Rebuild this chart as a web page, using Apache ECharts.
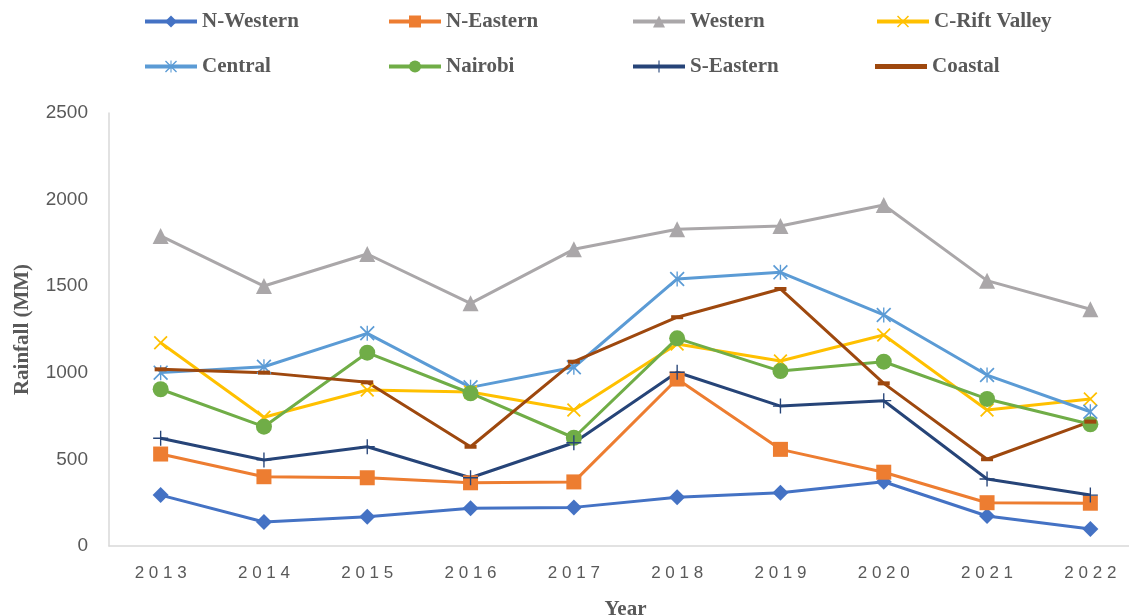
<!DOCTYPE html>
<html>
<head>
<meta charset="utf-8">
<script src="https://cdn.jsdelivr.net/npm/echarts@6/dist/echarts.min.js"></script>
<style>
html, body { margin:0; padding:0; background:#fff; }
#rain { width:1129px; height:616px; }
</style>
</head>
<body>
<div id="rain"></div>
<script>
var years = ['2013','2014','2015','2016','2017','2018','2019','2020','2021','2022'];
var seriesNames = ['N-Western','N-Eastern','Western','C-Rift Valley','Central','Nairobi','S-Eastern','Coastal'];

var nWestern  = [294, 139, 169, 218, 223, 281, 308, 371, 173, 98];
var nEastern  = [531, 400, 394, 365, 370, 964, 558, 426, 250, 247];
var western   = [1790, 1501, 1686, 1401, 1713, 1829, 1848, 1969, 1532, 1367];
var cRift     = [1174, 743, 901, 889, 785, 1166, 1068, 1218, 785, 849];
var central   = [1001, 1035, 1228, 916, 1032, 1542, 1580, 1334, 987, 775];
var nairobi   = [905, 689, 1116, 882, 625, 1199, 1010, 1064, 849, 703];
var sEastern  = [622, 497, 573, 394, 596, 1003, 808, 839, 387, 294];
var coastal   = [1020, 1001, 945, 573, 1064, 1321, 1484, 939, 501, 718];

var yTicks = [0, 500, 1000, 1500, 2000, 2500];

// marker shapes (excel style x / star / plus)
var xPath = 'path://M0,1.77L1.77,0L20,18.23L18.23,20ZM18.23,0L20,1.77L1.77,20L0,18.23Z';
var starPath = 'path://M0,1.6L1.6,0L20,18.4L18.4,20ZM18.4,0L20,1.6L1.6,20L0,18.4ZM9.1,0L10.9,0L10.9,20L9.1,20Z';
var plusPath = 'path://M9.1,0L10.9,0L10.9,9.1L20,9.1L20,10.9L10.9,10.9L10.9,20L9.1,20L9.1,10.9L0,10.9L0,9.1L9.1,9.1Z';

var styles = [
    {data: nWestern, color:'#4472C4', symbol:'diamond', size:16},
    {data: nEastern, color:'#ED7D31', symbol:'rect', size:15},
    {data: western,  color:'#AAA7A9', symbol:'triangle', size:16},
    {data: cRift,    color:'#FFC000', symbol:xPath, size:14},
    {data: central,  color:'#5B9BD5', symbol:starPath, size:15},
    {data: nairobi,  color:'#70AD47', symbol:'circle', size:16},
    {data: sEastern, color:'#264478', symbol:plusPath, size:15},
    {data: coastal,  color:'#9E480E', symbol:'rect', size:[12,4]}
];

var series = [];
for (var i = 0; i < seriesNames.length; i++) {
    series.push({
        name: seriesNames[i],
        type: 'line',
        data: styles[i].data,
        symbol: styles[i].symbol,
        symbolSize: styles[i].size,
        showAllSymbol: true,
        lineStyle: { color: styles[i].color, width: 3 },
        itemStyle: { color: styles[i].color, borderWidth: 0 },
        emphasis: { disabled: true }
    });
}

var legendLeft = [143, 387, 631, 875];
var legendTop = [11, 56];
var legends = [];
for (var j = 0; j < seriesNames.length; j++) {
    var isDash = seriesNames[j] === 'Coastal';
    legends.push({
        data: [isDash ? {name: seriesNames[j], icon: 'rect'} : seriesNames[j]],
        left: legendLeft[j % 4],
        top: legendTop[Math.floor(j / 4)],
        padding: 0,
        itemWidth: 52,
        itemHeight: isDash ? 5 : 15,
        lineStyle: { width: 4 },
        textStyle: {
            fontFamily: 'Liberation Serif',
            fontWeight: 'bold',
            fontSize: 21,
            color: '#595959'
        }
    });
}

var option = {
    animation: false,
    backgroundColor: '#ffffff',
    legend: legends,
    grid: {
        left: 109,
        right: -13,
        top: 113,
        bottom: 70,
        outerBoundsMode: 'none'
    },
    xAxis: {
        type: 'category',
        data: years,
        boundaryGap: true,
        name: 'Year',
        nameLocation: 'middle',
        nameGap: 53,
        nameTextStyle: {
            fontFamily: 'Liberation Serif',
            fontWeight: 'bold',
            fontSize: 21,
            color: '#595959'
        },
        axisLine: { lineStyle: { color: '#D9D9D9', width: 1.5 } },
        axisTick: { show: false },
        axisLabel: {
            margin: 19,
            fontFamily: 'Liberation Sans',
            fontSize: 17,
            color: '#595959',
            formatter: function (v) { return v.split('').join(' '); }
        }
    },
    yAxis: {
        type: 'value',
        min: yTicks[0],
        max: yTicks[yTicks.length - 1],
        interval: 500,
        name: 'Rainfall (MM)',
        nameLocation: 'middle',
        nameGap: 76,
        nameTextStyle: {
            fontFamily: 'Liberation Serif',
            fontWeight: 'bold',
            fontSize: 21,
            color: '#595959'
        },
        splitLine: { show: false },
        axisLine: { show: true, lineStyle: { color: '#D9D9D9', width: 1.5 } },
        axisTick: { show: false },
        axisLabel: {
            margin: 21,
            fontFamily: 'Liberation Sans',
            fontSize: 19,
            color: '#595959',
            formatter: function (v) { return String(v); }
        }
    },
    series: series
};

var chart = echarts.init(document.getElementById('rain'));
chart.setOption(option);
</script>
</body>
</html>
